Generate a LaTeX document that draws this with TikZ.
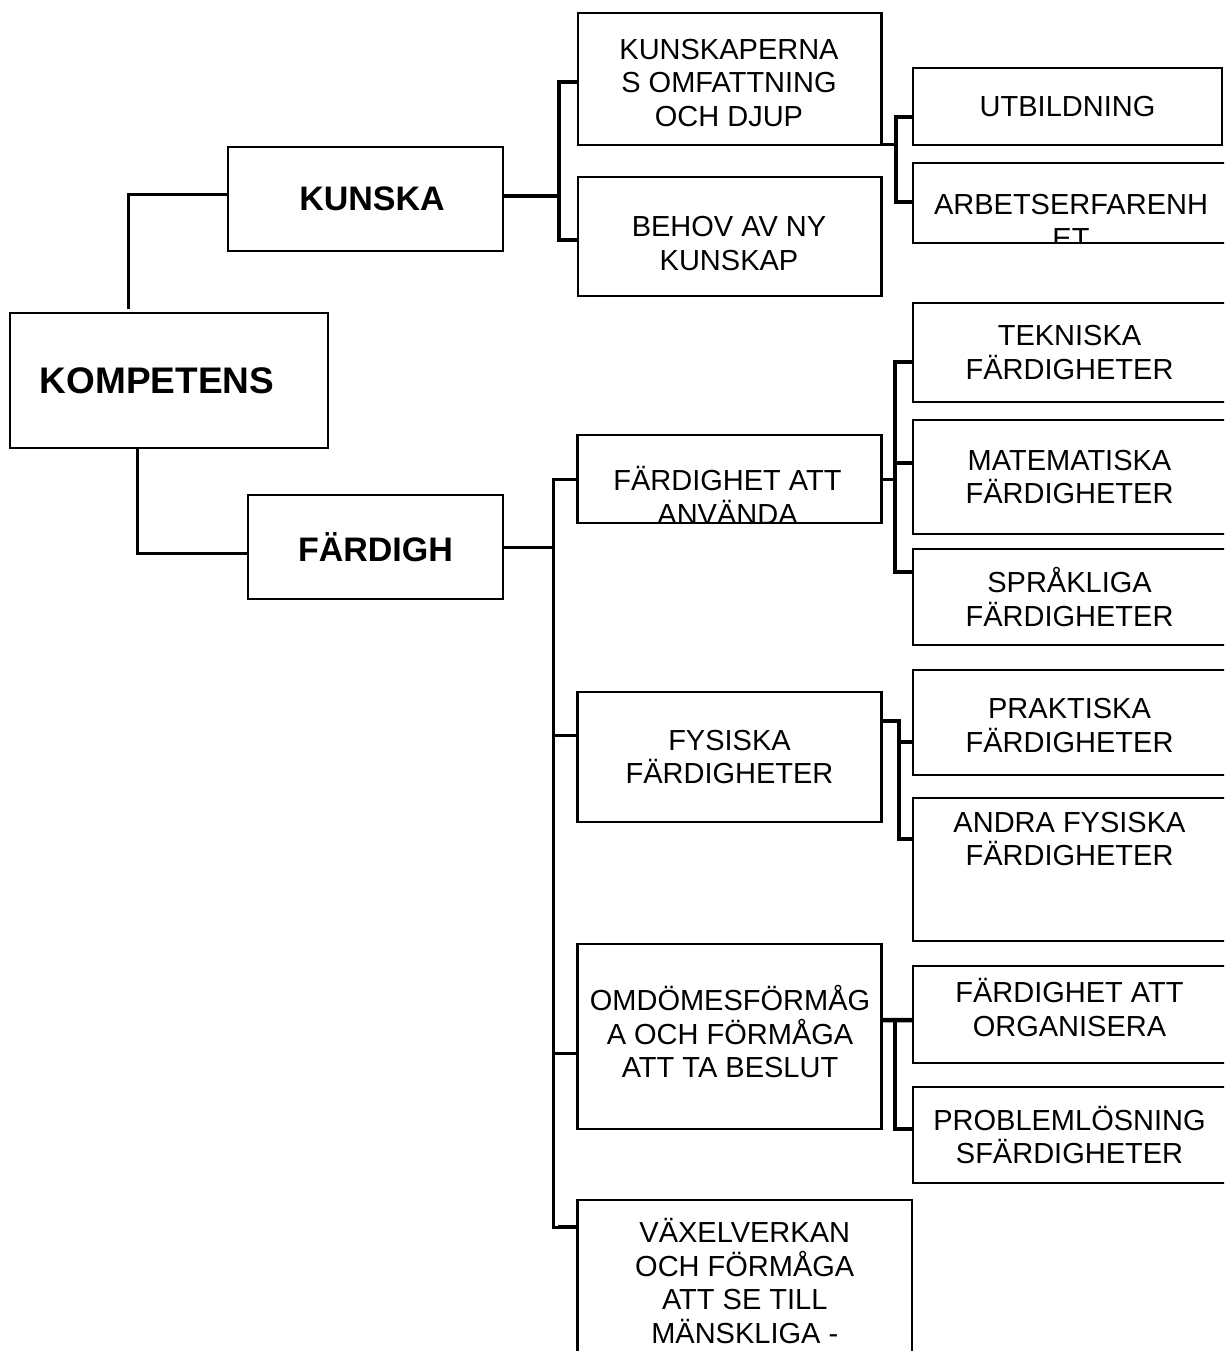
\documentclass[tikz,border=0pt]{standalone}
\usepackage{fontspec}
\setmainfont{Liberation Sans}
\tikzset{
  box/.style={draw, line width=2.5bp, inner sep=0pt, outer sep=0pt, align=center,
    font=\fontsize{29bp}{33.5bp}\selectfont},
  bigbox/.style={box, font=\fontsize{34bp}{39bp}\selectfont\bfseries},
  txt/.style={inner sep=0pt, align=center, font=\fontsize{29bp}{33.5bp}\selectfont},
  conn/.style={line width=3bp},
  conbold/.style={line width=4.5bp},
}
\begin{document}
\begin{tikzpicture}[x=1bp, y=-1bp]
  \newcommand{\leafbox}[4]{
    \node[box, minimum width=313bp, minimum height=#3bp] (#1) at (1069.5,#2) {#4};
  }
\clip (0,0) rectangle (1224,1351);

\node[bigbox, font=\fontsize{37bp}{42bp}\selectfont\bfseries, minimum width=318bp, minimum height=135bp] (komp) at (169,380.5) {\hspace*{-24bp}KOMPETENS};
\node[bigbox, minimum width=275bp, minimum height=104bp] (kunska) at (365.5,199) {\hspace*{13bp}KUNSKA};
\node[bigbox, minimum width=255bp, minimum height=104bp] (fardigh) at (375.5,547) {FÄRDIGH};

\node[box, minimum width=303.5bp, minimum height=132bp] (omf) at (729.5,79) {};
\node[txt] (omftxt) at (729,83) {KUNSKAPERNA\\S OMFATTNING\\OCH DJUP};
\node[box, minimum width=303.5bp, minimum height=119bp] (behov) at (729.5,236.5) {};
\node[txt] (behovtxt) at (729,243.5) {BEHOV AV NY\\KUNSKAP};
\node[box, minimum width=304bp, minimum height=88bp] (anv) at (729.5,479) {};
\node[box, minimum width=304bp, minimum height=130bp] (fys) at (729.5,757) {FYSISKA\\FÄRDIGHETER};
\node[box, minimum width=304bp, minimum height=185bp] (omd) at (729.5,1036.5) {};
\node[txt] (omdtxt) at (730,1031.5) {OMDÖMESFÖRMÅG\\A OCH FÖRMÅGA\\ATT TA BESLUT};
\node[box, minimum width=334.5bp, minimum height=162bp] (vax) at (744.75,1281) {VÄXELVERKAN\\OCH FÖRMÅGA\\ATT SE TILL\\MÄNSKLIGA -};

\node[box, minimum width=309bp, minimum height=77bp] (utb) at (1067.5,106.5) {UTBILDNING};
\leafbox{arb}{203}{80}{}
\leafbox{tekn}{352.5}{99}{TEKNISKA\\FÄRDIGHETER}
\leafbox{mat}{477}{114}{MATEMATISKA\\FÄRDIGHETER}
\leafbox{spr}{597}{96}{SPRÅKLIGA\\FÄRDIGHETER}
\leafbox{prakt}{722.5}{105}{}
\leafbox{andra}{869.5}{143}{}
\leafbox{org}{1014.5}{97}{}
\leafbox{prob}{1135}{96}{PROBLEMLÖSNING\\SFÄRDIGHETER}
\node[txt] (prakttxt) at (1069.5,725.5) {PRAKTISKA\\FÄRDIGHETER};
\node[txt] (andratxt) at (1069.5,839) {ANDRA FYSISKA\\FÄRDIGHETER};
\node[txt] (orgtxt) at (1069.5,1007.5) {FÄRDIGHET ATT\\ORGANISERA};

\begin{scope}
  \clip (arb.south west) rectangle (arb.north east);
  \node[txt] (arbtxt) at (1071,221.5) {ARBETSERFARENH\\ET};
\end{scope}
\begin{scope}
  \clip (anv.south west) rectangle (anv.north east);
  \node[txt] (anvtxt) at (727.5,495.5) {FÄRDIGHET ATT\\ANVÄNDA};
\end{scope}

\draw[conn] ([xshift=-41bp, yshift=4bp]komp.north) |- ([yshift=4bp]kunska.west);
\draw[conn] ([xshift=-32bp]komp.south) |- ([yshift=-6bp]fardigh.west);

\draw[conbold] ([yshift=3bp]kunska.east) -- ++(56,0) coordinate (k1);
\draw[conbold] ([yshift=-3bp]omf.west) -| (k1) |- ([yshift=-3.5bp]behov.west);

\draw[conn] (omf.south east) -- ++(14.5,0) coordinate (o1);
\draw[conbold] ([yshift=-10.5bp]utb.west) -| (o1) |- ([yshift=1bp]arb.west);

\draw[conn] (fardigh.east) -- ++(50,0) coordinate (f1);
\draw[conn] (anv.west) -| (f1) |- ([yshift=54bp]vax.west);
\draw[conbold] ([yshift=54bp]vax.west) -- ++(-20,0);
\draw[conn] ([yshift=22bp]fys.west) -- ++(-24.5,0);
\draw[conn] ([yshift=-16.5bp]omd.west) -- ++(-24.5,0);

\draw[conn] (anv.east) -- ++(13.5,0) coordinate (a1);
\draw[conbold] ([yshift=-9.5bp]tekn.west) -| (a1) |- ([yshift=25bp]spr.west);
\draw[conbold] ([yshift=14bp]mat.west) -- ++(-18,0);

\draw[conbold] ([yshift=36bp]fys.east) -- ++(17.5,0) coordinate (y1) |- ([yshift=30.5bp]andra.west);
\draw[conbold] ([yshift=-19.5bp]prakt.west) -- ++(-14,0);

\draw[conbold] ([yshift=16.5bp]omd.east) -- ++(13.5,0) coordinate (m1) -- ([yshift=-5.5bp]org.west);
\draw[conbold] (m1) |- ([yshift=6bp]prob.west);
\end{tikzpicture}
\end{document}
